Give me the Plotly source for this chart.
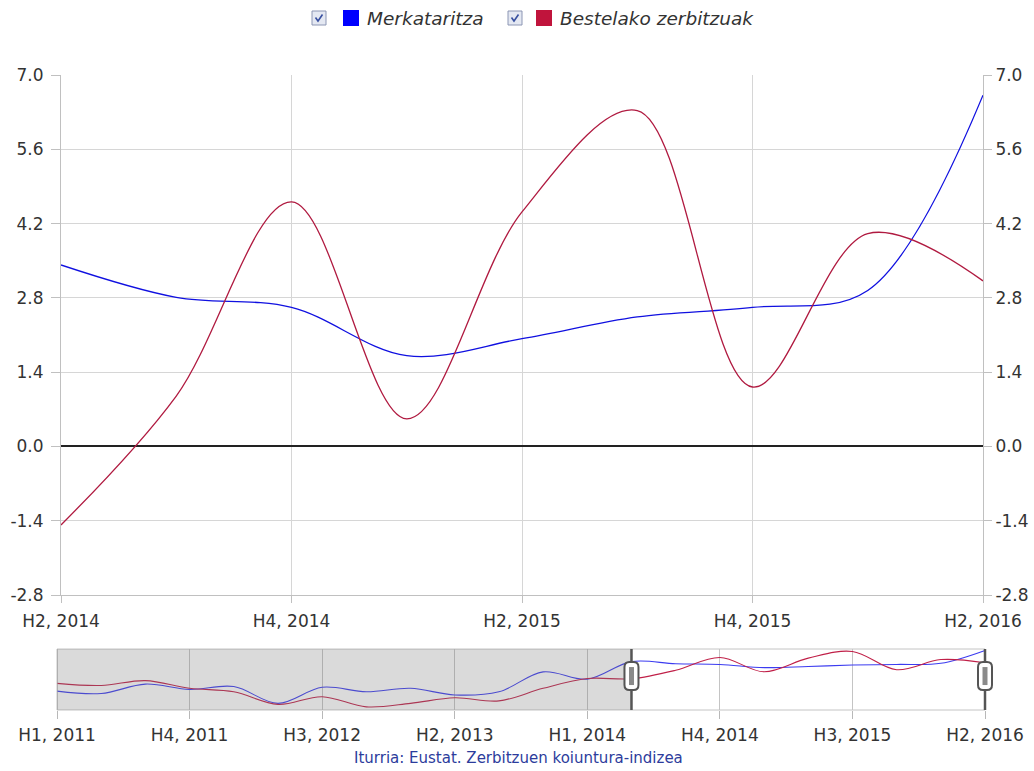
import plotly.graph_objects as go

# ---------------- data ----------------
quarters = ["H1, 2011", "H2, 2011", "H3, 2011", "H4, 2011",
            "H1, 2012", "H2, 2012", "H3, 2012", "H4, 2012",
            "H1, 2013", "H2, 2013", "H3, 2013", "H4, 2013",
            "H1, 2014", "H2, 2014", "H3, 2014", "H4, 2014",
            "H1, 2015", "H2, 2015", "H3, 2015", "H4, 2015",
            "H1, 2016", "H2, 2016"]
merkataritza = [-5.0, -5.7, -3.0, -4.5, -3.7, -8.5, -3.9, -5.2, -4.2, -6.1, -5.2, 0.5,
                -1.6, 3.42, 2.81, 2.62, 1.71, 2.03, 2.44, 2.62, 2.94, 6.62]
bestelako = [-2.8, -3.4, -2.0, -4.2, -5.2, -8.8, -6.6, -9.5, -8.5, -6.9, -7.8, -4.2,
             -1.4, -1.48, 0.95, 4.61, 0.52, 4.42, 6.33, 1.12, 4.01, 3.12]
series_names = ["Merkataritza", "Bestelako zerbitzuak"]
selected_start = "H2, 2014"
main_xticks = ["H2, 2014", "H4, 2014", "H2, 2015", "H4, 2015", "H2, 2016"]
nav_xticks = ["H1, 2011", "H4, 2011", "H3, 2012", "H2, 2013", "H1, 2014",
              "H4, 2014", "H3, 2015", "H2, 2016"]
y_ticks = [-2.8, -1.4, 0.0, 1.4, 2.8, 4.2, 5.6, 7.0]
source_text = "Iturria: Eustat. Zerbitzuen koiuntura-indizea"

# ---------------- layout helpers ----------------
W, H = 1034, 771
ML, MR, MT, MB = 40, 30, 75, 61
PW, PH = W - ML - MR, H - MT - MB


def fx(px):
    """page pixel x -> paper fraction"""
    return (px - ML) / PW


def fy(py):
    """page pixel y -> paper fraction"""
    return (H - MB - py) / PH


FONT = "DejaVu Sans, Verdana, sans-serif"
BLUE = "#1010e0"
RED = "#b01a40"
BLUE_L = "#3c3cf0"
RED_L = "#c02048"
GRID = "#d6d6d6"
AXL = "#c0c0c0"
TXT = "#333333"

i0 = quarters.index(selected_start)
main_q = quarters[i0:]
merk_main = merkataritza[i0:]
best_main = bestelako[i0:]

fig = go.Figure()

fig.add_trace(go.Scatter(x=main_q, y=merk_main, name=series_names[0], mode="lines",
                         line=dict(color=BLUE, width=1.3, shape="spline", smoothing=1.0),
                         xaxis="x", yaxis="y", showlegend=False))
fig.add_trace(go.Scatter(x=main_q, y=best_main, name=series_names[1], mode="lines",
                         line=dict(color=RED, width=1.3, shape="spline", smoothing=1.0),
                         xaxis="x", yaxis="y", showlegend=False))
fig.add_trace(go.Scatter(x=main_q, y=merk_main, mode="lines", opacity=0,
                         line=dict(width=0), hoverinfo="skip",
                         xaxis="x", yaxis="y2", showlegend=False))

fig.add_trace(go.Scatter(x=quarters, y=merkataritza, mode="lines",
                         line=dict(color=BLUE_L, width=1.1, shape="spline", smoothing=1.0),
                         xaxis="x2", yaxis="y3", showlegend=False, hoverinfo="skip"))
fig.add_trace(go.Scatter(x=quarters, y=bestelako, mode="lines",
                         line=dict(color=RED_L, width=1.1, shape="spline", smoothing=1.0),
                         xaxis="x2", yaxis="y3", showlegend=False, hoverinfo="skip"))

n = len(quarters)
nav_px_per = (985 - 57) / (n - 1)
nav_range = [-(57 - ML) / nav_px_per, (n - 1) + (W - MR - 985) / nav_px_per]

ytick_text = [f"{v:.1f}" for v in y_ticks]

fig.update_layout(
    width=W, height=H,
    margin=dict(l=ML, r=MR, t=MT, b=MB, autoexpand=False),
    paper_bgcolor="white", plot_bgcolor="white",
    font=dict(family=FONT, size=17, color=TXT),
    showlegend=False,
    xaxis=dict(domain=[fx(61), fx(983)], anchor="y", type="category",
               categoryorder="array", categoryarray=main_q,
               range=[0, len(main_q) - 1], automargin=False,
               tickmode="array", tickvals=main_xticks, ticktext=main_xticks,
               showgrid=True, gridcolor=GRID, gridwidth=1,
               showline=True, linecolor=AXL, linewidth=1,
               ticks="outside", ticklen=7, tickcolor=AXL,
               ticklabelstandoff=4,
               tickfont=dict(size=17, color=TXT), fixedrange=True),
    yaxis=dict(domain=[fy(595), fy(75)], anchor="x", range=[y_ticks[0], y_ticks[-1]],
               automargin=False,
               tickmode="array", tickvals=y_ticks, ticktext=ytick_text,
               showgrid=True, gridcolor=GRID, gridwidth=1,
               zeroline=True, zerolinecolor="#222222", zerolinewidth=1.6,
               showline=True, linecolor=AXL, linewidth=1,
               ticks="outside", ticklen=9, tickcolor=AXL,
               ticklabelstandoff=4,
               tickfont=dict(size=17, color=TXT), fixedrange=True),
    yaxis2=dict(overlaying="y", side="right", anchor="x", range=[y_ticks[0], y_ticks[-1]],
                automargin=False,
                tickmode="array", tickvals=y_ticks, ticktext=ytick_text,
                showgrid=False, zeroline=False,
                showline=True, linecolor=AXL, linewidth=1,
                ticks="outside", ticklen=8, tickcolor=AXL,
                tickfont=dict(size=17, color=TXT), fixedrange=True),
    xaxis2=dict(domain=[0, 1], anchor="y3", type="category",
                categoryorder="array", categoryarray=quarters,
                range=nav_range, automargin=False,
                tickmode="array", tickvals=nav_xticks, ticktext=nav_xticks,
                showgrid=True, gridcolor="#c4c4c4", gridwidth=1,
                showline=False, zeroline=False,
                ticks="outside", ticklen=8, tickcolor="#b8b8b8",
                ticklabelstandoff=2,
                tickfont=dict(size=17, color=TXT), fixedrange=True),
    yaxis3=dict(domain=[fy(710), fy(649)], anchor="x2", range=[-10.4, 7.03],
                automargin=False,
                showgrid=False, zeroline=False, showline=False,
                showticklabels=False, ticks="", fixedrange=True),
)

shapes = []
shapes.append(dict(type="rect", xref="x2", yref="y3 domain", x0=0, x1=n - 1, y0=0, y1=1,
                   line=dict(color="#c4c4c4", width=1), fillcolor="rgba(0,0,0,0)",
                   layer="above"))
shapes.append(dict(type="rect", xref="x2", yref="y3 domain", x0=0, x1=i0, y0=0, y1=1,
                   line=dict(width=0), fillcolor="rgba(120,120,120,0.27)", layer="above"))
for xi in [i0, n - 1]:
    shapes.append(dict(type="line", xref="x2", yref="y3 domain", x0=xi, x1=xi, y0=0, y1=1,
                       line=dict(color="#555555", width=2.5), layer="above"))
    shapes.append(dict(type="path", xref="x2", yref="y3", xsizemode="pixel",
                       ysizemode="pixel", xanchor=xi, yanchor=-0.7,
                       path="M -7,-9 L -7,9 Q -7,14 -2,14 L 2,14 Q 7,14 7,9 L 7,-9 "
                            "Q 7,-14 2,-14 L -2,-14 Q -7,-14 -7,-9 Z",
                       fillcolor="white", line=dict(color="#555555", width=2),
                       layer="above"))
    shapes.append(dict(type="rect", xref="x2", yref="y3", xsizemode="pixel",
                       ysizemode="pixel", xanchor=xi, yanchor=-0.7,
                       x0=-2.5, x1=2.5, y0=-9, y1=9,
                       fillcolor="#8a8a8a", line=dict(width=0), layer="above"))

legend_items = [
    dict(box=(312, 326), sq=(343, 359), text_x=365, color="#0000ff", label=series_names[0]),
    dict(box=(508, 522), sq=(536, 552), text_x=558, color="#c0143c", label=series_names[1]),
]
LY = 18
annotations = []
for it in legend_items:
    b0, b1 = it["box"]
    shapes.append(dict(type="rect", xref="paper", yref="paper",
                       x0=fx(b0), x1=fx(b1), y0=fy(LY + 7), y1=fy(LY - 7),
                       fillcolor="#e4e8f2", line=dict(color="#8c96b4", width=1),
                       layer="above"))
    shapes.append(dict(type="path", xref="paper", yref="paper", xsizemode="pixel",
                       ysizemode="pixel", xanchor=fx((b0 + b1) / 2), yanchor=fy(LY),
                       path="M -3.5,0.5 L -1,-3 L 3.5,3.5",
                       line=dict(color="#3850a0", width=1.6), layer="above"))
    s0, s1 = it["sq"]
    shapes.append(dict(type="rect", xref="paper", yref="paper",
                       x0=fx(s0), x1=fx(s1), y0=fy(LY + 8), y1=fy(LY - 8),
                       fillcolor=it["color"], line=dict(width=0), layer="above"))
    annotations.append(dict(xref="paper", yref="paper", x=fx(it["text_x"]), y=fy(LY),
                            text="<i>" + it["label"] + "</i>", showarrow=False,
                            xanchor="left", yanchor="middle",
                            font=dict(family=FONT, size=18.5, color="#333333")))

annotations.append(dict(xref="paper", yref="paper", x=fx(518), y=fy(758),
                        text=source_text, showarrow=False,
                        xanchor="center", yanchor="middle",
                        font=dict(family=FONT, size=15, color="#2c3c9c")))

fig.update_layout(shapes=shapes, annotations=annotations)

fig.write_html("out.html", config=dict(displayModeBar=False),
               post_script="document.body.style.margin='0';"
                           "document.body.style.overflow='hidden';")
